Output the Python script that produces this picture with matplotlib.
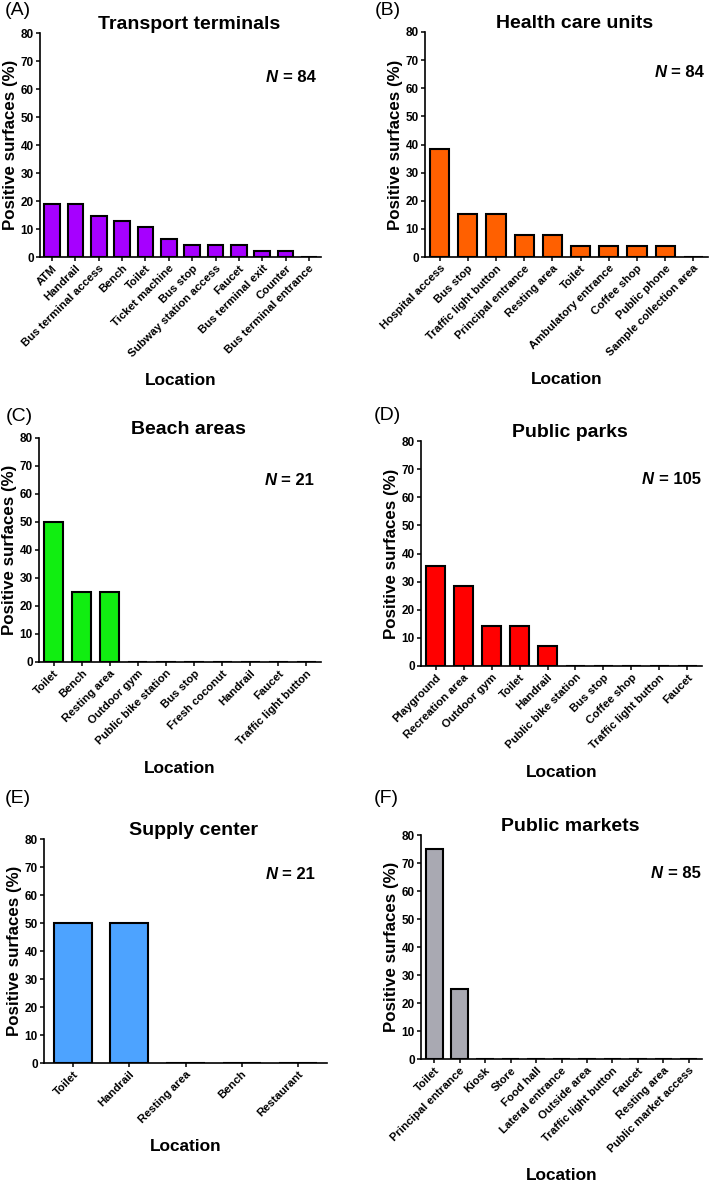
import matplotlib
matplotlib.use('Agg')
import matplotlib.pyplot as plt

plt.rcParams['font.family'] = ['Liberation Sans', 'DejaVu Sans']

# panel data
transport_labels = ['ATM', 'Handrail', 'Bus terminal access', 'Bench', 'Toilet', 'Ticket machine',
                    'Bus stop', 'Subway station access', 'Faucet', 'Bus terminal exit', 'Counter',
                    'Bus terminal entrance']
transport_values = [19.0, 19.0, 14.8, 13.0, 10.6, 6.4, 4.3, 4.3, 4.2, 2.1, 2.1, 0]

health_labels = ['Hospital access', 'Bus stop', 'Traffic light button', 'Principal entrance',
                 'Resting area', 'Toilet', 'Ambulatory entrance', 'Coffee shop', 'Public phone',
                 'Sample collection area']
health_values = [38.5, 15.4, 15.4, 7.7, 7.7, 3.8, 3.8, 3.8, 3.8, 0]

beach_labels = ['Toilet', 'Bench', 'Resting area', 'Outdoor gym', 'Public bike station', 'Bus stop',
                'Fresh coconut', 'Handrail', 'Faucet', 'Traffic light button']
beach_values = [50, 25, 25, 0, 0, 0, 0, 0, 0, 0]

parks_labels = ['Playground', 'Recreation area', 'Outdoor gym', 'Toilet', 'Handrail',
                'Public bike station', 'Bus stop', 'Coffee shop', 'Traffic light button', 'Faucet']
parks_values = [35.7, 28.6, 14.3, 14.3, 7.1, 0, 0, 0, 0, 0]

supply_labels = ['Toilet', 'Handrail', 'Resting area', 'Bench', 'Restaurant']
supply_values = [50, 50, 0, 0, 0]

market_labels = ['Toilet', 'Principal entrance', 'Kiosk', 'Store', 'Food hall', 'Lateral entrance',
                 'Outside area', 'Traffic light button', 'Faucet', 'Resting area',
                 'Public market access']
market_values = [75, 25, 0, 0, 0, 0, 0, 0, 0, 0, 0]

panels = [
    ('(A)', 'Transport terminals', '84', transport_labels, transport_values, '#A600FF'),
    ('(B)', 'Health care units', '84', health_labels, health_values, '#FF6000'),
    ('(C)', 'Beach areas', '21', beach_labels, beach_values, '#11EE11'),
    ('(D)', 'Public parks', '105', parks_labels, parks_values, '#FF0000'),
    ('(E)', 'Supply center', '21', supply_labels, supply_values, '#4DA3FF'),
    ('(F)', 'Public markets', '85', market_labels, market_values, '#A9A9B2'),
]

W, H = 709, 1185
# axes boxes in pixels: left, right, y of top (80), y of zero
boxes = [(40, 321, 33, 257), (425, 708, 32, 257),
         (39, 321, 438, 662), (421, 702, 441, 666),
         (44, 327, 839, 1063), (421, 702, 835, 1059)]
tag_pos = [(5, 2), (375, 2), (6, 408), (374, 407), (5, 790), (374, 790)]
n_pos = [(0.98, 0.80), (0.986, 0.82), (0.975, 0.81), (0.995, 0.83), (0.958, 0.84), (0.996, 0.83)]

fig = plt.figure(figsize=(W / 100, H / 100), dpi=100)

for i, (tag, title, n, labels, values, color) in enumerate(panels):
    l, r, t, b = boxes[i]
    ax = fig.add_axes([l / W, 1 - b / H, (r - l) / W, (b - t) / H])
    x = range(len(labels))
    ax.bar(x, values, width=0.68, color=color, edgecolor='black', linewidth=1.5, zorder=2)
    ax.set_xlim(-0.52, len(labels) - 0.48)
    ax.set_ylim(0, 80)
    ax.set_yticks(range(0, 81, 10))
    ax.set_xticks(list(x))
    ax.set_xticklabels(labels, rotation=45, ha='right', rotation_mode='anchor',
                       fontsize=8.2, fontweight='bold')
    for lab in ax.get_yticklabels():
        lab.set_fontsize(8.5)
        lab.set_fontweight('bold')
    ax.tick_params(direction='out', length=3, width=1.1, pad=1.5)
    for s in ['top', 'right']:
        ax.spines[s].set_visible(False)
    for s in ['left', 'bottom']:
        ax.spines[s].set_linewidth(1.2)
    ax.set_ylabel('Positive surfaces (%)', fontsize=12.2, fontweight='bold', labelpad=2)
    ax.set_xlabel('Location', fontsize=12.4, fontweight='bold', labelpad=10)
    ax.set_title(title, fontsize=14, fontweight='bold', x=0.53, pad=3)
    nx, ny = n_pos[i]
    eq = ax.text(nx, ny, '= ' + n, transform=ax.transAxes, ha='right', va='center',
                 fontsize=12, fontweight='bold')
    ax.annotate('N', xy=(0, 0.5), xycoords=eq, xytext=(-3.5, 0), textcoords='offset points',
                ha='right', va='center', fontsize=12, fontweight='bold', fontstyle='italic')
    fig.text(tag_pos[i][0] / W, 1 - tag_pos[i][1] / H, tag, fontsize=14, va='top', ha='left')

fig.savefig('out.png', dpi=100)
